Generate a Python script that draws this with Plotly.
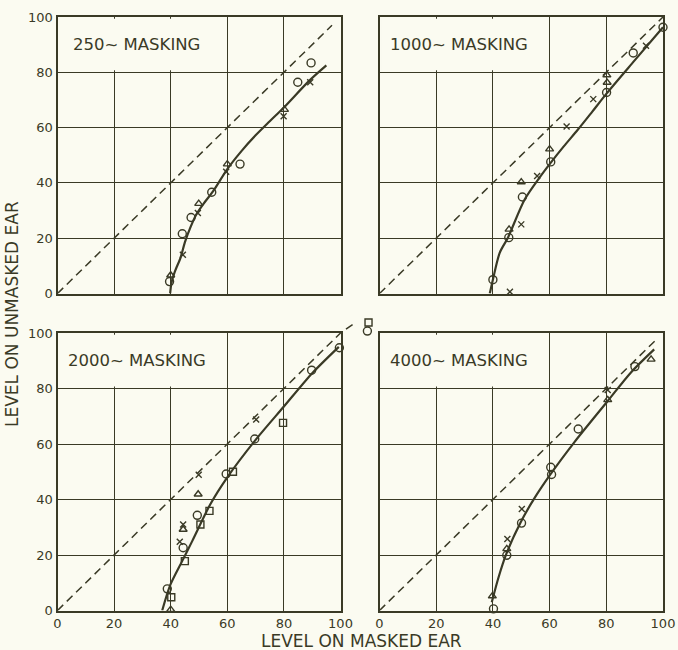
import plotly.graph_objects as go

BG = "#fbfbf1"
INK = "#3a3a26"
W, H = 678, 650

# ---------------- data ----------------
panel_labels = ["250~ MASKING", "1000~ MASKING", "2000~ MASKING", "4000~ MASKING"]
tick_vals = [0, 20, 40, 60, 80, 100]
tick_text = ["0", "20", "40", "60", "80", "100"]

# dashed equality lines
diag1_x = [0, 97]
diag1_y = [0, 97]
diag2_x = [0, 100]
diag2_y = [0, 100]
diag3_x = [0, 100, 105]
diag3_y = [0, 100, 103.5]
diag4_x = [0, 98]
diag4_y = [0, 98]

# 250 ~
curve1_x = [39.8, 40.3, 41.5, 43.5, 45, 47, 49, 52, 55, 60, 65, 70, 75, 80, 89, 95]
curve1_y = [0, 4, 8, 13, 18.5, 24, 28.5, 33, 37, 45, 51.5, 57.2, 62.3, 67.3, 77, 82.5]
circ1_x = [39.6, 44.1, 47.2, 54.5, 64.5, 84.9, 89.6]
circ1_y = [4.3, 21.6, 27.5, 36.6, 46.8, 76.4, 83.4]
cross1_x = [39.6, 44.3, 49.6, 59.6, 79.9, 89.3]
cross1_y = [-0.5, 14, 29.1, 44, 64.1, 76.4]
tri1_x = [40, 49.9, 60, 80.2]
tri1_y = [6.6, 32.5, 46.8, 66.5]
sq1_x = []
sq1_y = []

# 1000 ~
curve2_x = [38.9, 40, 42.4, 45.3, 51.2, 56.5, 60.7, 65, 70, 75, 80, 90, 100]
curve2_y = [0, 5, 14.7, 20.2, 34, 42, 47.7, 53.2, 59.3, 65.7, 72.2, 84.3, 96.3]
circ2_x = [40, 45.6, 50.4, 60.4, 80.1, 89.5, 100]
circ2_y = [5, 20.2, 34.9, 47.6, 72.7, 87, 96.3]
cross2_x = [46, 50, 55.6, 66, 75.4, 94]
cross2_y = [0.6, 25, 42.5, 60.4, 70.3, 89.6]
tri2_x = [40.3, 45.7, 50, 60, 80.3, 80.2]
tri2_y = [-0.3, 23.2, 40.3, 52.2, 76.3, 79]
sq2_x = []
sq2_y = []

# 2000 ~
curve3_x = [37, 39.9, 44, 47.6, 54, 60, 70, 80, 90, 99.4]
curve3_y = [0, 9.3, 17.7, 25, 38.3, 48, 61.5, 73.5, 85.5, 95]
circ3_x = [38.8, 44.4, 49.4, 59.6, 69.7, 89.8, 99.6]
circ3_y = [7.8, 22.6, 34.3, 49.2, 61.8, 86.6, 94.7]
cross3_x = [43.2, 44.4, 49.9, 70.2]
cross3_y = [24.8, 31, 48.9, 68.8]
tri3_x = [40, 44.4, 49.7]
tri3_y = [0.3, 29.2, 41.9]
sq3_x = [40.2, 45, 50.5, 53.7, 62, 79.7]
sq3_y = [4.8, 17.8, 31, 35.9, 50, 67.6]
# 2000 ~ points plotted beyond the frame (upper right corner)
out3_circ_x = [109.5]
out3_circ_y = [100.7]
out3_sq_x = [109.9]
out3_sq_y = [103.8]

# 4000 ~
curve4_x = [39.6, 42, 44.5, 49.8, 54.5, 60.4, 68.7, 80.5, 88.7, 96.9]
curve4_y = [3, 12, 19.8, 31.8, 40.2, 49.2, 60.6, 75.5, 85.8, 94.1]
circ4_x = [40.2, 44.9, 50.1, 60.4, 60.7, 70.1, 90.1]
circ4_y = [0.6, 19.9, 31.5, 51.6, 49, 65.4, 87.9]
cross4_x = [45.1, 50.2, 80.5]
cross4_y = [25.8, 36.6, 79.5]
tri4_x = [39.8, 44.9, 80.5, 95.8]
tri4_y = [5.2, 22.2, 75.9, 90.5]
sq4_x = []
sq4_y = []

panels = [
    dict(diag=(diag1_x, diag1_y), curve=(curve1_x, curve1_y), circ=(circ1_x, circ1_y),
         cross=(cross1_x, cross1_y), tri=(tri1_x, tri1_y), sq=(sq1_x, sq1_y)),
    dict(diag=(diag2_x, diag2_y), curve=(curve2_x, curve2_y), circ=(circ2_x, circ2_y),
         cross=(cross2_x, cross2_y), tri=(tri2_x, tri2_y), sq=(sq2_x, sq2_y)),
    dict(diag=None, curve=(curve3_x, curve3_y), circ=(circ3_x, circ3_y),
         cross=(cross3_x, cross3_y), tri=(tri3_x, tri3_y), sq=(sq3_x, sq3_y)),
    dict(diag=(diag4_x, diag4_y), curve=(curve4_x, curve4_y), circ=(circ4_x, circ4_y),
         cross=(cross4_x, cross4_y), tri=(tri4_x, tri4_y), sq=(sq4_x, sq4_y)),
]

# ---------------- layout geometry (pixels) ----------------
col_px = [(57.5, 340.5), (379.5, 663.0)]
row_px = [(17.0, 293.5), (333.0, 610.5)]

def xdom(c):
    a, b = col_px[c]
    return [a / W, b / W]

def ydom(r):
    a, b = row_px[r]
    return [1 - b / H, 1 - a / H]

fig = go.Figure()

axis_ids = ["", "2", "3", "4"]
pos = [(0, 0), (0, 1), (1, 0), (1, 1)]
show_x = [False, False, True, True]
show_y = [True, False, True, False]

tickfont = dict(family="DejaVu Sans", size=13, color=INK)
sym_spec = [("circ", "circle-open", 8), ("cross", "x-thin-open", 6),
            ("tri", "triangle-up-open", 7), ("sq", "square-open", 7)]
SYM = {k: (s, z) for k, s, z in sym_spec}


def add_markers(xs, ys, key, xa, ya):
    sym, size = SYM[key]
    fig.add_trace(go.Scatter(x=xs, y=ys, mode="markers", xaxis=xa, yaxis=ya,
                             marker=dict(symbol=sym, size=size, color=INK,
                                         line=dict(color=INK, width=1.4)),
                             cliponaxis=False, hoverinfo="skip", showlegend=False))


def add_dashed(xs, ys, xa, ya):
    fig.add_trace(go.Scatter(x=xs, y=ys, mode="lines", xaxis=xa, yaxis=ya,
                             line=dict(color=INK, width=1.5, dash="8px,5px"),
                             cliponaxis=False, hoverinfo="skip", showlegend=False))


for i, p in enumerate(panels):
    xa = "x" + axis_ids[i]
    ya = "y" + axis_ids[i]
    r, c = pos[i]
    common = dict(
        range=[0, 100], tickvals=tick_vals, ticktext=tick_text,
        showgrid=True, gridcolor=INK, gridwidth=1.3,
        showline=True, linecolor=INK, linewidth=2, mirror=True,
        zeroline=False, ticks="", tickfont=tickfont, fixedrange=True,
        automargin=False,
    )
    fig.layout["xaxis" + axis_ids[i]] = dict(
        common, domain=xdom(c), anchor=ya, showticklabels=show_x[i])
    fig.layout["yaxis" + axis_ids[i]] = dict(
        common, domain=ydom(r), anchor=xa, showticklabels=show_y[i])

    if p["diag"] is not None:
        add_dashed(p["diag"][0], p["diag"][1], xa, ya)
    cx, cy = p["curve"]
    fig.add_trace(go.Scatter(x=cx, y=cy, mode="lines", xaxis=xa, yaxis=ya,
                             line=dict(color=INK, width=2.2, shape="spline", smoothing=0.8),
                             cliponaxis=False, hoverinfo="skip", showlegend=False))
    for key, _, _ in sym_spec:
        mx, my = p[key]
        if mx:
            add_markers(mx, my, key, xa, ya)

    # label box (hides gridlines in the upper-left block)
    fig.add_shape(type="rect", xref=xa, yref=ya, x0=0.6, x1=59.4, y0=80.7, y1=99.4,
                  fillcolor=BG, line=dict(width=0), layer="between")
    fig.add_annotation(x=28, y=90, xref=xa, yref=ya, text=panel_labels[i],
                       showarrow=False, xanchor="center", yanchor="middle",
                       font=dict(family="DejaVu Sans", size=16.5, color=INK))

# invisible companion axes for the 2000~ panel, same scale but a larger extent,
# so the dashed line and the two points can run past the frame as in the original
X_EXT, Y_EXT = 115, 110
a, b = col_px[0]
top, bot = row_px[1]
sx = (b - a) / 100.0
sy = (bot - top) / 100.0
fig.layout["xaxis5"] = dict(range=[0, X_EXT], domain=[a / W, (a + X_EXT * sx) / W],
                            anchor="y5", visible=False, fixedrange=True)
fig.layout["yaxis5"] = dict(range=[0, Y_EXT], domain=[1 - bot / H, 1 - (bot - Y_EXT * sy) / H],
                            anchor="x5", visible=False, fixedrange=True)
add_dashed(diag3_x, diag3_y, "x5", "y5")
add_markers(out3_sq_x, out3_sq_y, "sq", "x5", "y5")
add_markers(out3_circ_x, out3_circ_y, "circ", "x5", "y5")

# axis titles
fig.add_annotation(x=12 / W, y=1 - 314 / H, xref="paper", yref="paper",
                   text="LEVEL ON UNMASKED EAR", textangle=-90, showarrow=False,
                   xanchor="center", yanchor="middle",
                   font=dict(family="DejaVu Sans", size=17, color=INK))
fig.add_annotation(x=361 / W, y=1 - 641 / H, xref="paper", yref="paper",
                   text="LEVEL ON MASKED EAR", showarrow=False,
                   xanchor="center", yanchor="middle",
                   font=dict(family="DejaVu Sans", size=17, color=INK))

fig.update_layout(
    width=W, height=H,
    margin=dict(l=0, r=0, t=0, b=0, pad=0, autoexpand=False),
    paper_bgcolor=BG, plot_bgcolor="rgba(0,0,0,0)",
    showlegend=False,
)

fig.write_html(
    "out.html",
    config={"displayModeBar": False},
    post_script="document.body.style.margin='0px'; document.body.style.background='%s';" % BG,
)
